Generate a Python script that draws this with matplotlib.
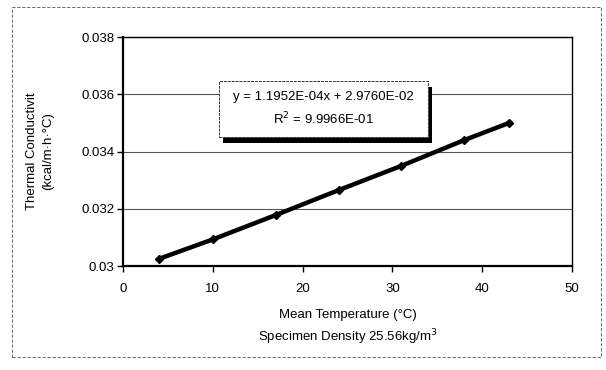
import matplotlib
matplotlib.use('Agg')
import matplotlib.pyplot as plt
from matplotlib.patches import Rectangle

plt.rcParams['font.family'] = ['Liberation Sans', 'DejaVu Sans']

# measured points
temperature = [4, 10, 17, 24, 31, 38, 43]
conductivity = [0.03025, 0.03093, 0.03178, 0.03265, 0.03350, 0.03440, 0.03500]

xticks = [0, 10, 20, 30, 40, 50]
yticks = [0.030, 0.032, 0.034, 0.036, 0.038]
ytick_labels = ['0.03', '0.032', '0.034', '0.036', '0.038']

fit_text = 'y = 1.1952E-04x + 2.9760E-02\nR$^2$ = 9.9966E-01'

fig = plt.figure(figsize=(6.06, 3.70), dpi=100)
ax = fig.add_axes([0.203, 0.281, 0.741, 0.619])

ax.plot(temperature, conductivity, color='black', lw=3.2, marker='D',
        markersize=4, solid_capstyle='round', zorder=3)

ax.set_xlim(0, 50)
ax.set_ylim(0.030, 0.038)
ax.set_xticks(xticks)
ax.set_yticks(yticks)
ax.set_yticklabels(ytick_labels)
ax.tick_params(axis='both', labelsize=9.5, length=4, width=1, direction='out')
ax.tick_params(axis='y', pad=2)
ax.tick_params(axis='x', pad=8)
ax.grid(axis='y', color='#555555', lw=0.8)
ax.set_axisbelow(True)
for side in ['left', 'bottom']:
    ax.spines[side].set_linewidth(1.6)
for side in ['right', 'top']:
    ax.spines[side].set_linewidth(1.0)

ax.set_xlabel('Mean Temperature (°C)\nSpecimen Density 25.56kg/m$^3$',
              fontsize=9.5, labelpad=10, linespacing=1.5)
ax.set_ylabel('Thermal Conductivit\n(kcal/m·h·°C)', fontsize=9.5,
              labelpad=20, linespacing=1.4)

# trendline equation box with shadow
bx, by, bw, bh = 0.214, 0.563, 0.465, 0.245
ax.add_patch(Rectangle((bx + 0.009, by - 0.026), bw, bh, transform=ax.transAxes,
                       facecolor='black', edgecolor='none', zorder=4))
ax.add_patch(Rectangle((bx, by), bw, bh, transform=ax.transAxes,
                       facecolor='white', edgecolor='#333333', lw=0.7,
                       linestyle=(0, (3, 1)), zorder=5))
ax.text(bx + bw / 2, by + bh / 2, fit_text, transform=ax.transAxes,
        ha='center', va='center', fontsize=9.5, linespacing=1.6, zorder=6)

# outer frame
fig.patches.append(Rectangle((0.02, 0.035), 0.972, 0.946, transform=fig.transFigure,
                             fill=False, edgecolor='#555555', lw=0.6,
                             linestyle=(0, (4, 2))))

fig.savefig('out.png', dpi=100)
